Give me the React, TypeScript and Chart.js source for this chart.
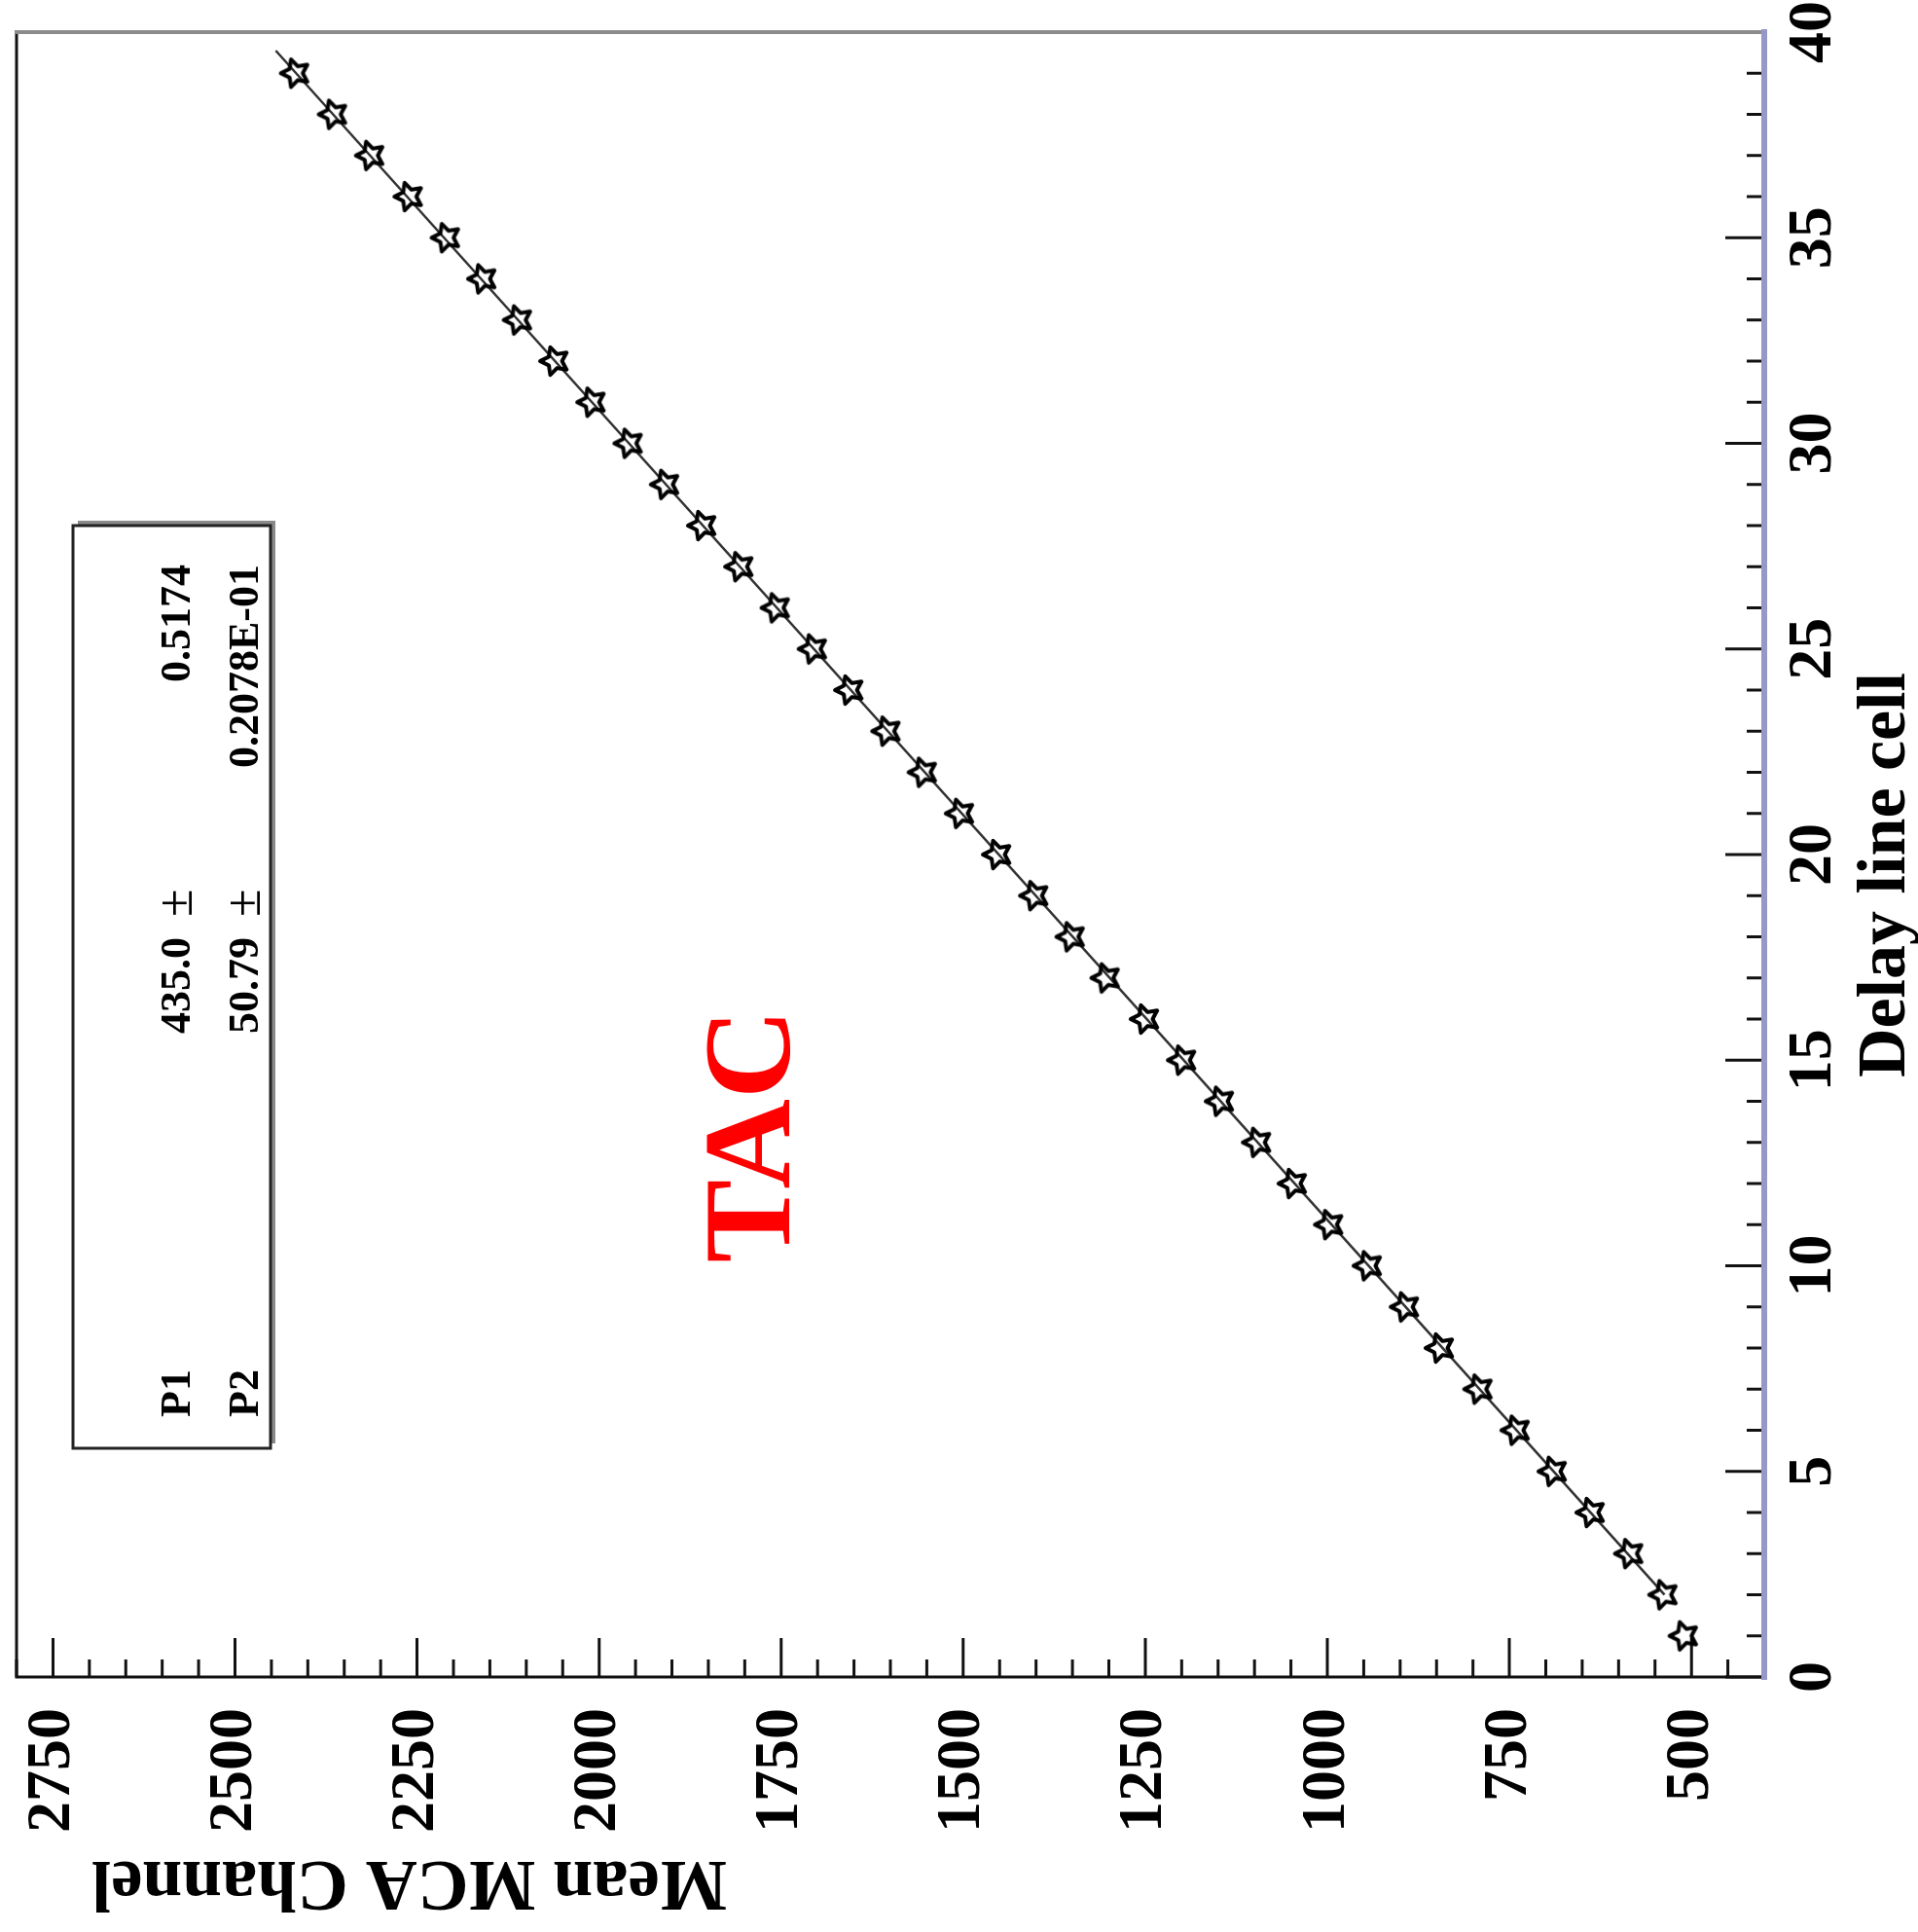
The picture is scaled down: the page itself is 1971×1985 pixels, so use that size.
import React, { useEffect, useRef } from "react";
import { Chart, registerables } from "chart.js";

Chart.register(...registerables);

// ---- data ----
const delayCells = [
  1, 2, 3, 4, 5, 6, 7, 8, 9, 10, 11, 12, 13, 14, 15, 16, 17, 18, 19, 20,
  21, 22, 23, 24, 25, 26, 27, 28, 29, 30, 31, 32, 33, 34, 35, 36, 37, 38, 39,
];
const meanChannel = [
  510, 538, 585, 638, 690, 741, 792, 845, 893, 944, 997, 1047, 1096, 1147,
  1199, 1250, 1304, 1352, 1402, 1453, 1504, 1555, 1605, 1656, 1706, 1757,
  1807, 1858, 1909, 1959, 2010, 2061, 2111, 2160, 2210, 2261, 2314, 2365, 2417,
];
const fitCells = [2, 39.55];
const fitChannel = [537, 2444];

const xTickValues = [0, 5, 10, 15, 20, 25, 30, 35, 40];
const yTickValues = [500, 750, 1000, 1250, 1500, 1750, 2000, 2250, 2500, 2750];

const xTitle = "Delay line cell";
const yTitle = "Mean MCA Channel";
const labelText = "TAC";
const paramNames = ["P1", "P2"];
const paramValues = ["435.0", "50.79"];
const paramErrors = ["0.5174", "0.2078E-01"];

const W = 1985; // canvas width (rotated later)
const H = 1971; // canvas height
const SERIF = '"Liberation Serif", "Times New Roman", serif';

function makeStar(size: number, lw: number) {
  const c = document.createElement("canvas");
  c.width = size;
  c.height = size;
  const g = c.getContext("2d")!;
  const cx = size / 2;
  const cy = size / 2;
  const R = size / 2 - lw;
  const r = R * 0.5;
  g.beginPath();
  for (let i = 0; i < 10; i++) {
    const a = -Math.PI / 2 + (i * Math.PI) / 5;
    const rad = i % 2 === 0 ? R : r;
    g.lineTo(cx + rad * Math.cos(a), cy + rad * Math.sin(a));
  }
  g.closePath();
  g.lineJoin = "round";
  g.lineWidth = lw;
  g.strokeStyle = "#000";
  g.stroke();
  return c;
}

const rootDecor = {
  id: "rootDecor",
  beforeDatasetsDraw(chart: any) {
    const { ctx, chartArea, scales } = chart;
    const { left, right, top, bottom } = chartArea;
    const xs = scales.x;
    const ys = scales.y;
    ctx.save();
    ctx.strokeStyle = "#111";
    ctx.lineWidth = 3;
    // x ticks (major every 5, minor every 1), inward
    for (let v = xs.min; v <= xs.max + 1e-9; v += 1) {
      const px = xs.getPixelForValue(v);
      const len = Math.abs(v % 5) < 1e-9 ? 40 : 18;
      ctx.beginPath();
      ctx.moveTo(px, bottom);
      ctx.lineTo(px, bottom - len);
      ctx.stroke();
    }
    // y ticks (major every 250, minor every 50), inward
    for (let v = ys.min; v <= ys.max + 1e-9; v += 50) {
      const py = ys.getPixelForValue(v);
      const len = Math.abs(v % 250) < 1e-9 ? 40 : 18;
      ctx.beginPath();
      ctx.moveTo(left, py);
      ctx.lineTo(left + len, py);
      ctx.stroke();
    }
    // frame
    ctx.lineCap = "square";
    ctx.strokeStyle = "#111";
    ctx.lineWidth = 3;
    ctx.beginPath();
    ctx.moveTo(left, bottom);
    ctx.lineTo(left, top);
    ctx.lineTo(right, top);
    ctx.stroke();
    ctx.strokeStyle = "#8c8c8c";
    ctx.lineWidth = 4;
    ctx.beginPath();
    ctx.moveTo(right, top);
    ctx.lineTo(right, bottom);
    ctx.stroke();
    ctx.strokeStyle = "#9898c6";
    ctx.lineWidth = 6;
    ctx.beginPath();
    ctx.moveTo(left, bottom);
    ctx.lineTo(right, bottom);
    ctx.stroke();
    ctx.restore();
  },
  afterDraw(chart: any) {
    const { ctx } = chart;
    ctx.save();
    // stat box with shadow
    const bx = 497, by = 75, bw = 948, bh = 203;
    ctx.fillStyle = "#8a8a8a";
    ctx.fillRect(bx + 5, by + 5, bw, bh);
    ctx.fillStyle = "#fff";
    ctx.fillRect(bx, by, bw, bh);
    ctx.strokeStyle = "#222";
    ctx.lineWidth = 3;
    ctx.strokeRect(bx, by, bw, bh);

    ctx.fillStyle = "#000";
    ctx.textBaseline = "alphabetic";
    const rows = [195, 265];
    for (let i = 0; i < paramNames.length; i++) {
      const yb = rows[i];
      ctx.font = `bold 44px ${SERIF}`;
      ctx.textAlign = "left";
      ctx.fillText(paramNames[i], 529, yb);
      ctx.textAlign = "right";
      ctx.fillText(paramValues[i], 1022, yb);
      ctx.textAlign = "right";
      ctx.fillText(paramErrors[i], 1405, yb);
      ctx.font = `52px ${SERIF}`;
      ctx.textAlign = "left";
      ctx.fillText("\u00b1", 1043, yb + 2);
    }

    // TAC label
    ctx.fillStyle = "#ff0000";
    ctx.font = `bold 128px ${SERIF}`;
    ctx.textAlign = "center";
    ctx.textBaseline = "alphabetic";
    ctx.fillText(labelText, 818, 811);

    // axis titles
    ctx.fillStyle = "#000";
    ctx.font = `bold 70px ${SERIF}`;
    ctx.textAlign = "left";
    ctx.fillText(xTitle, 878, 1957);

    ctx.save();
    ctx.font = `bold 73px ${SERIF}`;
    ctx.translate(72, 747);
    ctx.rotate(-Math.PI / 2);
    ctx.textAlign = "left";
    ctx.fillText(yTitle, 0, 0);
    ctx.restore();

    ctx.restore();
  },
};

export default function App() {
  const ref = useRef<HTMLCanvasElement>(null);

  useEffect(() => {
    const canvas = ref.current!;
    const star = makeStar(38, 4);
    const chart = new Chart(canvas, {
      type: "scatter",
      data: {
        datasets: [
          {
            label: "fit",
            data: fitCells.map((x, i) => ({ x, y: fitChannel[i] })),
            showLine: true,
            borderColor: "#333",
            borderWidth: 2.5,
            pointRadius: 0,
            order: 2,
          },
          {
            label: "TAC",
            data: delayCells.map((x, i) => ({ x, y: meanChannel[i] })),
            showLine: false,
            pointStyle: star as any,
            pointRadius: 16,
            order: 1,
          },
        ],
      },
      options: {
        responsive: false,
        animation: false,
        devicePixelRatio: 1,
        layout: { padding: { top: 17, right: 33, left: 0, bottom: 0 } },
        plugins: { legend: { display: false }, tooltip: { enabled: false } },
        scales: {
          x: {
            type: "linear",
            min: 0,
            max: 40,
            grid: { display: false, drawTicks: false },
            border: { display: false },
            ticks: {
              color: "#000",
              padding: 13,
              maxRotation: 0,
              autoSkip: false,
              font: { family: SERIF, size: 64, weight: "bold" },
              callback: (v: any) => String(v),
            },
            afterBuildTicks: (s: any) => {
              s.ticks = xTickValues.map((v) => ({ value: v }));
            },
            afterFit: (s: any) => {
              s.height = 158;
              s.paddingLeft = 0;
              s.paddingRight = 0;
              s.paddingTop = 0;
              s.paddingBottom = 0;
            },
          },
          y: {
            type: "linear",
            min: 400,
            max: 2800,
            grid: { display: false, drawTicks: false },
            border: { display: false },
            ticks: {
              color: "#000",
              padding: 32,
              autoSkip: false,
              font: { family: SERIF, size: 64, weight: "bold" },
              callback: (v: any) => String(v),
            },
            afterBuildTicks: (s: any) => {
              s.ticks = yTickValues.map((v) => ({ value: v }));
            },
            afterFit: (s: any) => {
              s.width = 262;
              s.paddingLeft = 0;
              s.paddingRight = 0;
              s.paddingTop = 0;
              s.paddingBottom = 0;
            },
          },
        },
      },
      plugins: [rootDecor],
    } as any);
    return () => chart.destroy();
  }, []);

  return (
    <div
      style={{
        position: "fixed",
        left: 0,
        top: 0,
        width: 1971,
        height: 1985,
        overflow: "hidden",
        background: "#fff",
      }}
    >
      <canvas
        ref={ref}
        width={W}
        height={H}
        style={{
          position: "absolute",
          left: 0,
          top: 0,
          width: W,
          height: H,
          transformOrigin: "0 0",
          transform: `translateY(${W}px) rotate(-90deg)`,
        }}
      />
    </div>
  );
}
